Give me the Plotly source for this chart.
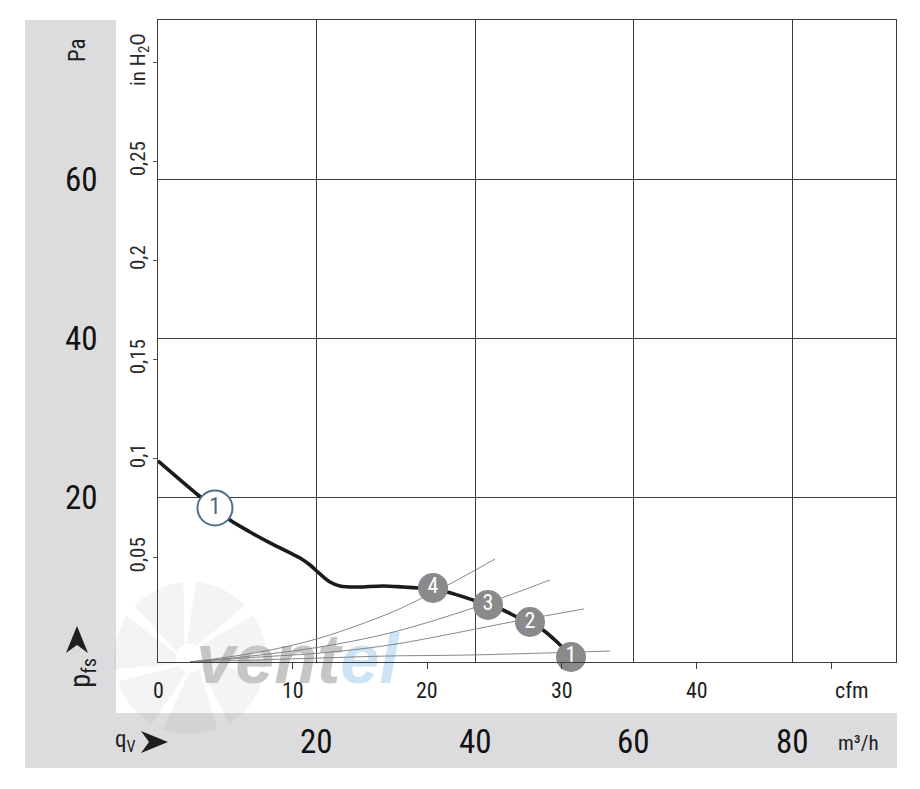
import math
import plotly.graph_objects as go

# ---------------- data ----------------
PA_PER_INH2O = 249.089
M3H_PER_CFM = 1.699

# main characteristic curve (q in m3/h, p in Pa)
curve_q = [0.0, 5.05, 7.19, 9.09, 11.61, 14.13, 16.66, 17.92, 19.18, 20.44, 21.70, 22.97,
           25.11, 28.39, 30.91, 32.81, 34.70, 36.47, 39.75, 41.64, 43.53, 45.30, 46.94,
           48.58, 50.35, 51.61, 52.11]
curve_p = [24.65, 20.37, 18.74, 17.23, 15.72, 14.34, 13.08, 12.45, 11.57, 10.44, 9.43, 8.93,
           8.80, 8.93, 8.80, 8.68, 8.55, 8.17, 7.17, 6.54, 5.91, 5.03, 4.40,
           3.40, 1.89, 0.63, 0.0]

# system (load) curves
sys4_q = [4.04, 12.87, 20.44, 29.27, 33.06, 36.59, 42.52]
sys4_p = [-0.63, 0.63, 2.39, 5.53, 7.29, 9.05, 12.32]
sys3_q = [4.04, 12.87, 20.44, 29.27, 39.75, 49.46]
sys3_p = [-0.63, 0.25, 1.26, 3.02, 6.16, 9.68]
sys2_q = [4.04, 12.87, 20.44, 29.27, 45.30, 53.75]
sys2_p = [-0.63, 0.0, 0.50, 1.51, 4.53, 6.04]
sys1_q = [4.04, 20.44, 29.27, 39.37, 57.03]
sys1_p = [-0.63, -0.13, 0.13, 0.25, 0.75]

# operating points
op_q = [34.70, 41.64, 46.94, 52.11]
op_p = [8.68, 6.54, 4.40, 0.0]
op_labels = ["4", "3", "2", "1"]
curve_label_q = [7.19]
curve_label_p = [18.74]
curve_label = ["1"]

pa_ticks = [20, 40, 60]
inh2o_ticks = [0.05, 0.1, 0.15, 0.2, 0.25, 0.3]
inh2o_text = ["0,05", "0,1", "0,15", "0,2", "0,25", "in H<sub>2</sub>O"]
m3h_ticks = [20, 40, 60, 80]
cfm_ticks = [0, 10, 20, 30, 40]

X_RANGE = [0, 93.12]
Y_RANGE = [-0.63, 80.1]

FONT = "Liberation Sans Narrow, Roboto Condensed, Roboto, Arial, sans-serif"
DARK = "#1e1e1e"
GRID = "#3c3c3c"
PANEL = "#dcdcde"

# plot area in pixels (for decorative elements placed in paper coords)
L, R, T, B = 158, 896, 20, 662
W, H = R - L, B - T


def px(xp):
    return (xp - L) / W


def py(yp):
    return (B - yp) / H


fig = go.Figure()

# watermark text
fig.add_trace(go.Scatter(
    x=[17.6], y=[3.3], mode="text",
    text=['<b><i><span style="color:#c6c6c6">vent</span><span style="color:#cde3f6">el</span></i></b>'],
    textfont=dict(family="Liberation Sans, Arial, sans-serif", size=70, color="#c6c6c6"),
    textposition="bottom center", cliponaxis=False, hoverinfo="skip", showlegend=False))

for qs, ps in [(sys4_q, sys4_p), (sys3_q, sys3_p), (sys2_q, sys2_p), (sys1_q, sys1_p)]:
    fig.add_trace(go.Scatter(x=qs, y=ps, mode="lines", line=dict(color="#7a7a7a", width=0.9, shape="spline"),
                             cliponaxis=False, hoverinfo="skip", showlegend=False))

fig.add_trace(go.Scatter(x=curve_q, y=curve_p, mode="lines",
                         line=dict(color="#1b1b1b", width=3.6, shape="spline", smoothing=1.0),
                         cliponaxis=False, hoverinfo="skip", showlegend=False))

fig.add_trace(go.Scatter(x=op_q, y=op_p, mode="markers+text", text=op_labels,
                         textposition="middle center",
                         textfont=dict(family=FONT, size=22, color="white"),
                         marker=dict(size=30, color="#8a8a8c", line=dict(width=0)),
                         cliponaxis=False, hoverinfo="skip", showlegend=False))

fig.add_trace(go.Scatter(x=curve_label_q, y=curve_label_p, mode="markers+text", text=curve_label,
                         textposition="middle center",
                         textfont=dict(family=FONT, size=23, color="#4a6a86"),
                         marker=dict(size=35, color="white", line=dict(width=2, color="#4f6f8c")),
                         cliponaxis=False, hoverinfo="skip", showlegend=False))

# helper traces for secondary axes
fig.add_trace(go.Scatter(x=[None], y=[None], yaxis="y2", showlegend=False))
fig.add_trace(go.Scatter(x=[None], y=[None], xaxis="x2", showlegend=False))

shapes = [
    dict(type="rect", xref="paper", yref="paper", x0=px(25), x1=px(116), y0=py(713), y1=py(20),
         fillcolor=PANEL, line=dict(width=0), layer="below"),
    dict(type="rect", xref="paper", yref="paper", x0=px(25), x1=px(897), y0=py(768), y1=py(713),
         fillcolor=PANEL, line=dict(width=0), layer="below"),
]

# faint fan watermark (decorative)
cx, cy, r_in, r_out = 190, 658, 14, 76
for k in range(7):
    a0 = math.radians(95 + k * (360 / 7))
    a1 = a0 + math.radians(42)
    pts = []
    n = 10
    for i in range(n + 1):
        a = a0 + (a1 - a0) * i / n
        pts.append((cx + r_out * math.cos(a), cy - r_out * math.sin(a)))
    for i in range(n + 1):
        a = a1 - (a1 - a0) * i / n + math.radians(18)
        pts.append((cx + r_in * math.cos(a), cy - r_in * math.sin(a)))
    path = "M " + " L ".join(f"{px(x):.5f},{py(y):.5f}" for x, y in pts) + " Z"
    shapes.append(dict(type="path", xref="paper", yref="paper", path=path,
                       fillcolor="rgba(110,110,120,0.075)", line=dict(width=0), layer="below"))

# arrows (p_fs up arrow and q_V right arrow)
up = [(77, 626), (88, 653), (77, 645), (66, 653)]
right = [(168, 742), (141, 753), (149, 742), (141, 731)]
for pts in (up, right):
    path = "M " + " L ".join(f"{px(x):.5f},{py(y):.5f}" for x, y in pts) + " Z"
    shapes.append(dict(type="path", xref="paper", yref="paper", path=path,
                       fillcolor=DARK, line=dict(width=0), layer="above"))

ann = []
for v in pa_ticks:
    ann.append(dict(x=px(81), xref="paper", y=v, yref="y", text=str(v), showarrow=False,
                    font=dict(family=FONT, size=33, color="#111111"), xanchor="center", yanchor="middle"))
ann.append(dict(x=px(77), xref="paper", y=py(50), yref="paper", text="Pa", showarrow=False, textangle=-90,
                font=dict(family=FONT, size=23, color=DARK), xanchor="center", yanchor="middle"))
ann.append(dict(x=px(82), xref="paper", y=py(673), yref="paper", text="p<sub>fs</sub>", showarrow=False,
                textangle=-90, font=dict(family=FONT, size=29, color=DARK), xanchor="center", yanchor="middle"))
for v in cfm_ticks:
    ann.append(dict(x=v * M3H_PER_CFM, xref="x", y=py(690), yref="paper", text=str(v), showarrow=False,
                    font=dict(family=FONT, size=22, color=DARK), xanchor="center", yanchor="middle"))
ann.append(dict(x=px(852), xref="paper", y=py(690), yref="paper", text="cfm", showarrow=False,
                font=dict(family=FONT, size=22, color=DARK), xanchor="center", yanchor="middle"))
for v in m3h_ticks:
    ann.append(dict(x=v, xref="x", y=py(741), yref="paper", text=str(v), showarrow=False,
                    font=dict(family=FONT, size=33, color="#111111"), xanchor="center", yanchor="middle"))
ann.append(dict(x=px(858), xref="paper", y=py(743), yref="paper", text="m³/h", showarrow=False,
                font=dict(family=FONT, size=21, color=DARK), xanchor="center", yanchor="middle"))
ann.append(dict(x=px(125), xref="paper", y=py(741), yref="paper", text="q<sub>V</sub>", showarrow=False,
                font=dict(family=FONT, size=23, color=DARK), xanchor="center", yanchor="middle"))

fig.update_layout(
    width=920, height=789,
    margin=dict(l=L, r=920 - R, t=T, b=789 - B, pad=0),
    paper_bgcolor="white", plot_bgcolor="rgba(0,0,0,0)",
    showlegend=False,
    shapes=shapes, annotations=ann,
    xaxis=dict(range=X_RANGE, tickvals=m3h_ticks, showticklabels=False, ticks="",
               showgrid=True, gridcolor=GRID, gridwidth=1, zeroline=False,
               showline=True, linecolor=GRID, linewidth=1.3, mirror=True),
    xaxis2=dict(range=[X_RANGE[0] / M3H_PER_CFM, X_RANGE[1] / M3H_PER_CFM], overlaying="x", anchor="y",
                side="bottom", tickvals=[10, 20, 30, 40, 50], ticks="outside", ticklen=6,
                tickcolor=GRID, showticklabels=False, showgrid=False, zeroline=False, showline=False),
    yaxis=dict(range=Y_RANGE, tickvals=pa_ticks, showticklabels=False, ticks="",
               showgrid=True, gridcolor=GRID, gridwidth=1, zeroline=False,
               showline=True, linecolor=GRID, linewidth=1.3, mirror=True),
    yaxis2=dict(range=[Y_RANGE[0] / PA_PER_INH2O, Y_RANGE[1] / PA_PER_INH2O], overlaying="y", anchor="x",
                side="left", tickvals=inh2o_ticks, ticktext=inh2o_text, tickangle=-90,
                ticks="outside", ticklen=4, tickcolor="#555555",
                tickfont=dict(family=FONT, size=21, color="#2a2a2a"),
                showgrid=False, zeroline=False, showline=False),
)

fig.write_html("out.html")
